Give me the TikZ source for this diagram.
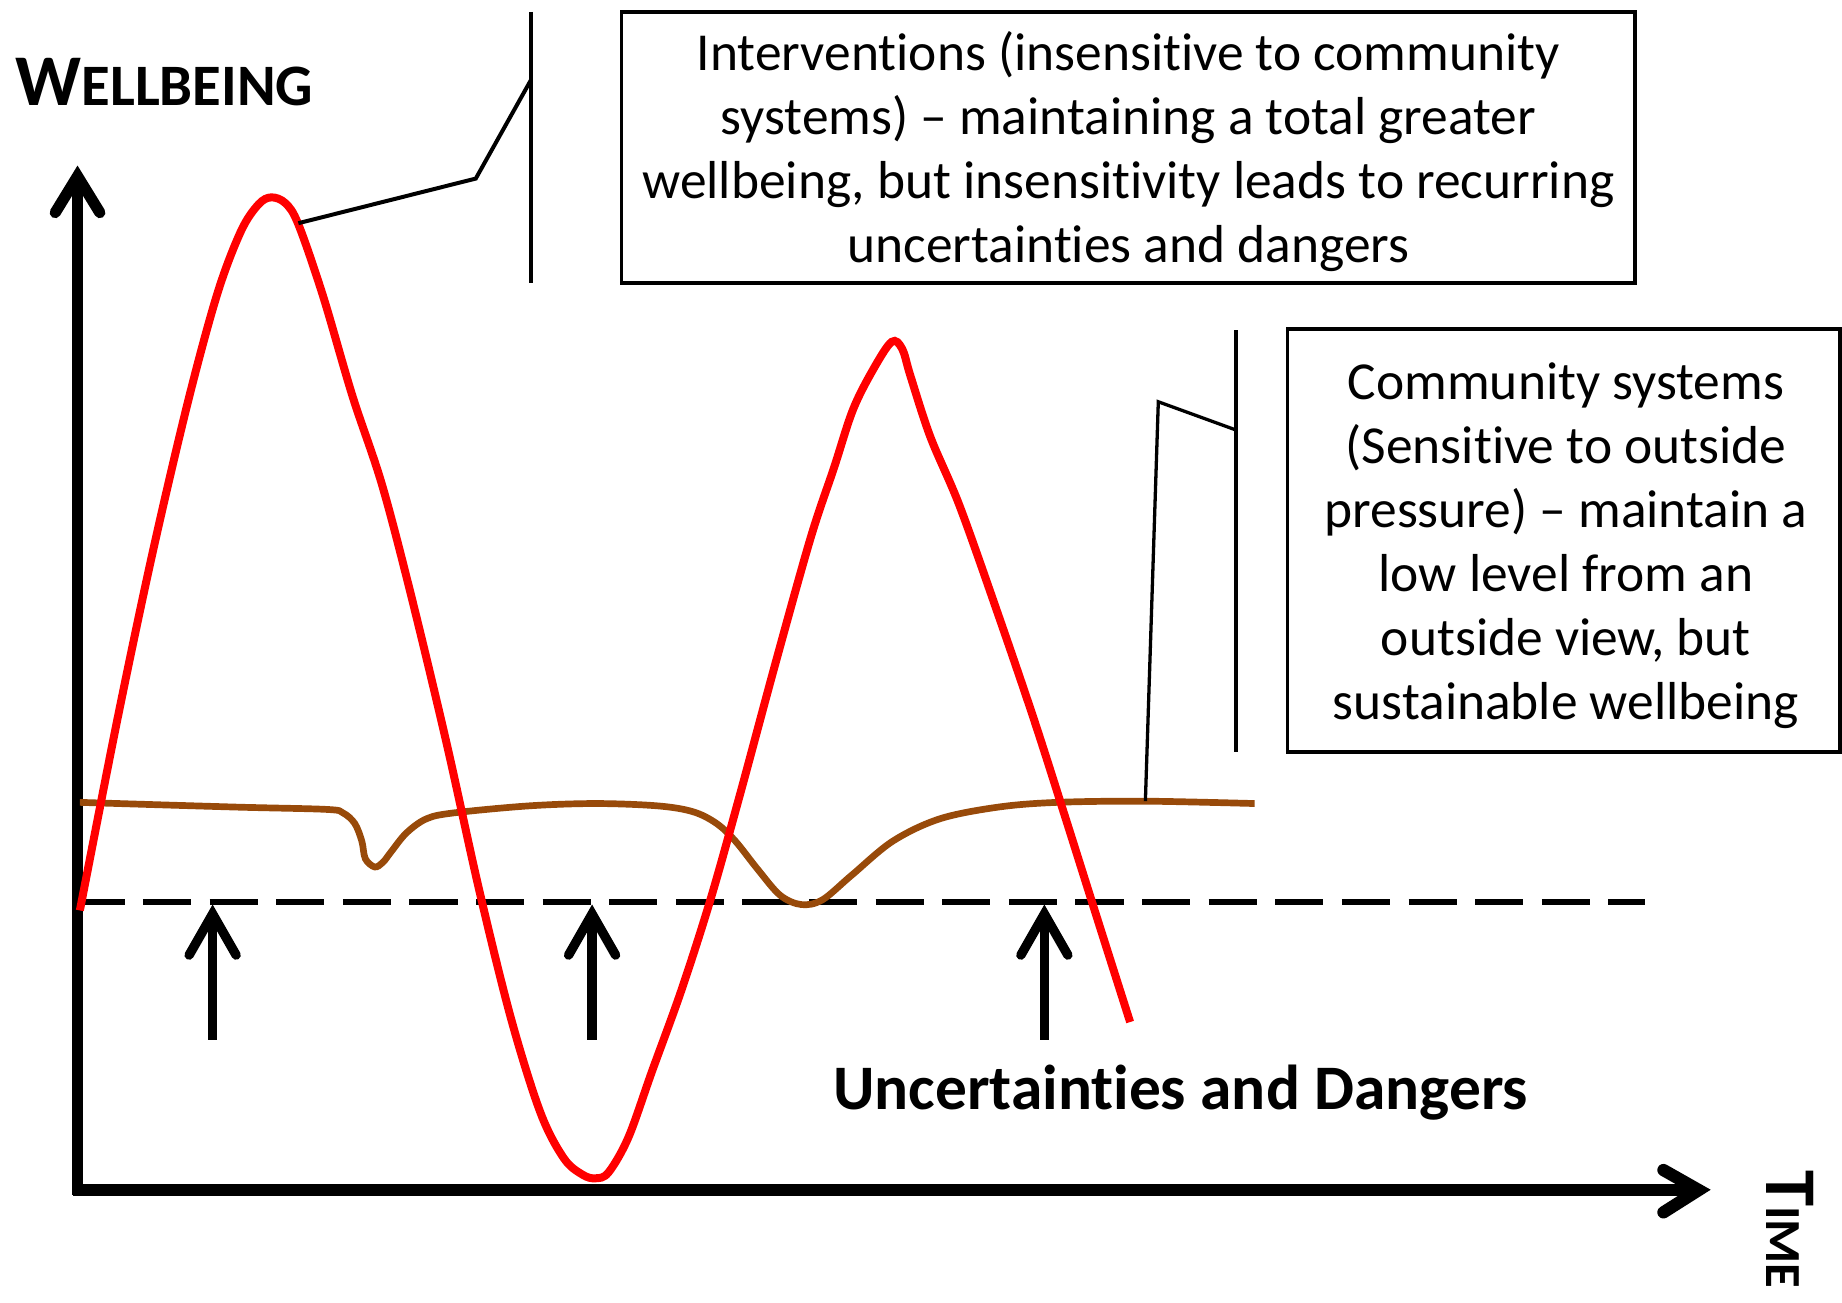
\documentclass[tikz,border=0pt]{standalone}
\usepackage{fontspec}
\setmainfont{Carlito}[Ligatures={NoCommon}]
\definecolor{brownc}{RGB}{152,74,10}
\begin{document}
\begin{tikzpicture}[x=1pt,y=-1pt,
  axisline/.style={line width=9.5pt},
  chev/.style={line width=9.5pt, line cap=round, line join=miter},
  redc/.style={draw=red, line width=6.8pt},
  brownline/.style={draw=brownc, line width=5.7pt},
  dashline/.style={line width=4.8pt, dash pattern=on 41pt off 15.7pt},
  callout/.style={line width=3.4pt},
  textbox/.style={draw, line width=3.2pt, align=center, inner sep=0pt,
    font=\fontsize{45.5}{54.5}\selectfont},
  upshaft/.style={line width=8pt},
  upchev/.style={line width=8pt, line cap=round, line join=miter}
]
\useasboundingbox (0,0) rectangle (1568,1109);

% axis labels
\node[anchor=base west, inner sep=0pt] (wlab) at (13,90)
  {\bfseries\fontsize{62}{62}\selectfont W\fontsize{50}{50}\selectfont ELLBEING};
\node[anchor=base west, inner sep=0pt, rotate=-90] (tlab) at (1504,996)
  {\bfseries\fontsize{62}{62}\selectfont T\fontsize{43}{43}\selectfont IME};

% axes
\coordinate (origin) at (66,1013);
\coordinate (ytop) at (66,150);
\coordinate (xend) at (1446,1013);
\draw[axisline] (66,1017) -- (ytop);
\draw[chev] (47,181) -- (ytop) -- (85,181);
\draw[line width=10.5pt] (62,1013) -- (xend);
\draw[chev, line width=10.5pt] (1416,996) -- (xend) -- (1416,1032);

% dashed threshold
\coordinate (dl) at (65,768);
\coordinate (dr) at (1400,768);
\draw[dashline] (dl) -- (dr);

% up arrows
\foreach \xx in {181,504,889}{
  \draw[upshaft] (\xx,885) -- (\xx,785);
  \draw[upchev] (\xx-20,813) -- (\xx,778) -- (\xx+20,813);
}

% brown curve
\draw[brownline] plot[smooth, tension=0.55] coordinates {
 (68,683) (200,687) (278,689) (292,692) (302,701) (308,716) (311,731) (319,738)
 (326,734) (333,725) (346,709) (363,697) (386,692) (450,686) (507,684)
 (560,686) (590,691) (610,701) (626,716) (645,740) (664,762) (682,770)
 (700,766) (725,745) (760,716) (800,697) (850,687) (900,683) (975,682) (1068,684)};

% red curve
\draw[redc] plot[smooth, tension=0.55] coordinates {
 (68,775) (100,612) (130,470) (160,342) (185,250) (205,197) (220,174) (231,168)
 (243,173) (254,191) (275,252) (300,337) (325,412) (350,507) (380,632) (408,758)
 (435,867) (460,947) (480,986) (496,1000) (507,1003) (518,998) (535,968) (555,912)
 (580,843) (605,765) (630,676) (660,565) (690,458) (710,398) (726,349) (743,315)
 (759,291) (768,297) (775,320) (792,372) (817,431) (850,524) (880,612) (905,690)
 (935,785) (962,870)};

% text boxes
\node[textbox, minimum width=863pt, minimum height=231pt] (box1) at (960.5,125.5) {};
\node[align=center, inner sep=0pt, font=\fontsize{45.5}{54.5}\selectfont] (t1) at (960.5,129)
  {Interventions (insensitive to community\\systems) -- maintaining a total greater\\wellbeing, but insensitivity leads to recurring\\uncertainties and dangers};
\node[textbox, minimum width=470pt, minimum height=360pt] (box2) at (1331,460) {};
\node[align=center, inner sep=0pt, font=\fontsize{45.5}{54.5}\selectfont] (t2) at (1333,464.5)
  {Community systems\\(Sensitive to outside\\pressure) -- maintain a\\low level from an\\outside view, but\\sustainable wellbeing};

\node[inner sep=0pt, font=\bfseries\fontsize{54}{54}\selectfont] (ud) at (1005,930)
  {Uncertainties and Dangers};

% callout 1
\coordinate (c1a) at (254,190);
\coordinate (c1b) at (405,152);
\coordinate (c1c) at (452,68);
\coordinate (c1top) at (452,10);
\coordinate (c1bot) at (452,241);
\draw[callout] (c1a) -- (c1b) -- (c1c);
\draw[callout] (c1top) -- (c1bot);

% callout 2
\coordinate (c2a) at (975,682);
\coordinate (c2b) at (986,342);
\coordinate (c2c) at (1052,366);
\coordinate (c2top) at (1052,281);
\coordinate (c2bot) at (1052,640);
\draw[callout, line width=2.8pt] (c2a) -- (c2b) -- (c2c);
\draw[callout] (c2top) -- (c2bot);
\end{tikzpicture}
\end{document}
